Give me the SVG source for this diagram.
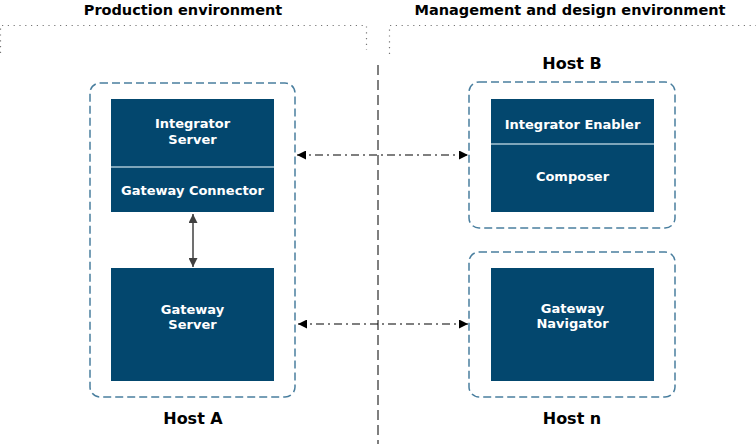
<svg xmlns="http://www.w3.org/2000/svg" width="756" height="444" viewBox="0 0 756 444">
<style>
.title{font-family:"DejaVu Sans",Verdana,sans-serif;font-weight:bold;font-size:14.5px;fill:#000;text-anchor:middle}
.host{font-family:"DejaVu Sans",Verdana,sans-serif;font-weight:bold;font-size:16px;fill:#000;text-anchor:middle}
.lbl{font-family:"DejaVu Sans",Verdana,sans-serif;font-weight:bold;font-size:13px;fill:#fff;text-anchor:middle}
.frame{fill:none;stroke:#4a7f9f;stroke-width:1.5;stroke-dasharray:8,4}
.box{fill:#03476e}
.sep{stroke:#a9c4d4;stroke-width:1.5}
.dots{fill:none;stroke:#777;stroke-width:1.2;stroke-dasharray:1.2,4.6}
.divider{stroke:#7f7f7f;stroke-width:2;stroke-dasharray:10,5}
.dashdot{fill:none;stroke:#000;stroke-width:1.2;stroke-dasharray:8,4,2,4}
.solid{fill:none;stroke:#404040;stroke-width:1.5}
</style>
<defs>
<marker id="ah" viewBox="0 0 10 10" refX="10" refY="5" markerWidth="9" markerHeight="9" markerUnits="userSpaceOnUse" orient="auto-start-reverse">
<path d="M0,0 L10,5 L0,10 z" fill="#000"/>
</marker>
<marker id="ahg" viewBox="0 0 10 10" refX="10" refY="5" markerWidth="9" markerHeight="9" markerUnits="userSpaceOnUse" orient="auto-start-reverse">
<path d="M0,0 L10,5 L0,10 z" fill="#404040"/>
</marker>
</defs>

<g id="environments">
<text class="title" x="183" y="15">Production environment</text>
<path class="dots" d="M0.5,53 V25.5 H366.5 V50"/>
<text class="title" x="570" y="15">Management and design environment</text>
<path class="dots" d="M389.5,54 V25.5 H756"/>
<line class="divider" x1="378" y1="65" x2="378" y2="444"/>
</g>

<g id="hostA">
<rect class="frame" x="90" y="83" width="205" height="314" rx="10"/>
<text class="host" x="193" y="424">Host A</text>
</g>

<g id="integratorServer">
<rect class="box" x="111" y="99" width="163" height="113"/>
<line class="sep" x1="111" y1="167" x2="274" y2="167"/>
<text class="lbl" x="192.5" y="128">Integrator</text>
<text class="lbl" x="192.5" y="144">Server</text>
<text class="lbl" x="192.5" y="195">Gateway Connector</text>
</g>

<g id="gatewayServer">
<rect class="box" x="111" y="268" width="163" height="113"/>
<text class="lbl" x="192.5" y="313.5">Gateway</text>
<text class="lbl" x="192.5" y="329">Server</text>
</g>

<g id="hostB">
<text class="host" x="572" y="69">Host B</text>
<rect class="frame" x="469" y="82" width="206" height="146" rx="10"/>
<rect class="box" x="491" y="99" width="163" height="113"/>
<line class="sep" x1="491" y1="144" x2="654" y2="144"/>
<text class="lbl" x="572.5" y="129">Integrator Enabler</text>
<text class="lbl" x="572.5" y="181">Composer</text>
</g>

<g id="hostN">
<rect class="frame" x="469" y="252" width="206" height="145" rx="10"/>
<rect class="box" x="491" y="268" width="163" height="113"/>
<text class="lbl" x="572.5" y="313">Gateway</text>
<text class="lbl" x="572.5" y="328">Navigator</text>
<text class="host" x="572" y="424">Host n</text>
</g>

<g id="connectors">
<line class="solid" x1="193" y1="214" x2="193" y2="267" marker-start="url(#ahg)" marker-end="url(#ahg)"/>
<line class="dashdot" x1="297" y1="155" x2="468" y2="155" marker-start="url(#ah)" marker-end="url(#ah)"/>
<line class="dashdot" x1="298" y1="324" x2="468" y2="324" marker-start="url(#ah)" marker-end="url(#ah)"/>
</g>
</svg>
